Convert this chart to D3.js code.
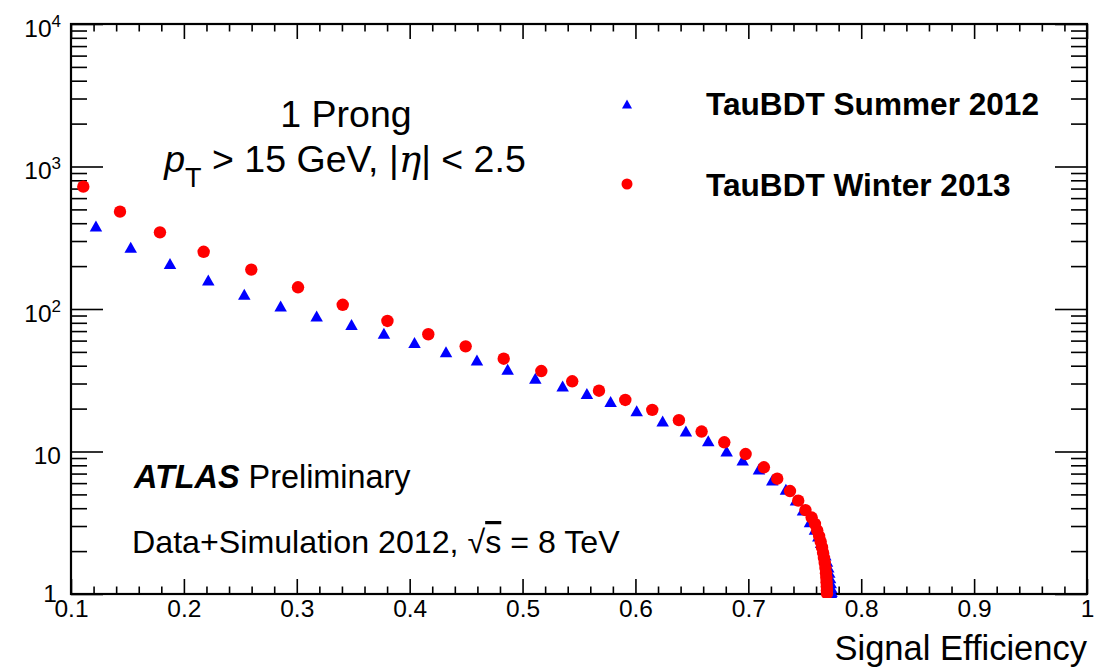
<!DOCTYPE html>
<html>
<head>
<meta charset="utf-8">
<script src="https://cdn.jsdelivr.net/npm/d3@7"></script>
<style>
  html, body { margin: 0; padding: 0; background: #fff; }
  svg { display: block; }
  text { font-family: "Liberation Sans", Arial, Helvetica, sans-serif; fill: #000; }
</style>
</head>
<body>
<svg id="chart" width="1098" height="668"></svg>
<script>
// ---------------- DATA ----------------
// TauBDT Summer 2012 (blue triangles): signal efficiency vs background rejection
const summerEff = [0.1221, 0.1529, 0.1877, 0.2216, 0.2535, 0.2857, 0.3176, 0.3485, 0.3772, 0.4043,
  0.4322, 0.4596, 0.4868, 0.5113, 0.5355, 0.5570, 0.5780, 0.6011, 0.6241, 0.6447,
  0.6645, 0.6808, 0.6950, 0.7094, 0.7212, 0.7333, 0.7422, 0.7484, 0.7546,
  0.7590, 0.7620, 0.7645, 0.7665, 0.7682, 0.7697, 0.7708, 0.7717, 0.7724, 0.7730, 0.7734, 0.7737, 0.7739];
const summerRej = [382, 271, 209, 160, 127, 105, 89.3, 77.8, 67.5, 58.2,
  50.2, 43.9, 37.8, 32.7, 28.8, 25.5, 22.4, 19.3, 16.4, 13.9,
  11.9, 10.1, 8.72, 7.54, 6.31, 5.43, 4.57, 3.88, 3.22,
  2.85, 2.55, 2.30, 2.08, 1.88, 1.70, 1.55, 1.42, 1.30, 1.20, 1.11, 1.04, 1.00];

// TauBDT Winter 2013 (red circles)
const winterEff = [0.1109, 0.1434, 0.1788, 0.2175, 0.2597, 0.3011, 0.3407, 0.3803, 0.4165, 0.4496,
  0.4833, 0.5166, 0.5440, 0.5677, 0.5910, 0.6149, 0.6385, 0.6586, 0.6787, 0.6976,
  0.7138, 0.7256, 0.7369, 0.7442, 0.7506, 0.7561,
  0.7590, 0.7610, 0.7627, 0.7641, 0.7652, 0.7662, 0.7670, 0.7677, 0.7683, 0.7688,
  0.7691, 0.7693, 0.7695, 0.7696, 0.7697];
const winterRej = [722, 482, 345, 252, 189, 142, 107, 82.4, 66.5, 54.7,
  44.8, 36.7, 31.1, 26.7, 23.0, 19.6, 16.6, 13.8, 11.6, 9.6,
  7.75, 6.44, 5.28, 4.52, 3.88, 3.44,
  3.10, 2.80, 2.55, 2.33, 2.13, 1.95, 1.79, 1.65, 1.52, 1.40,
  1.30, 1.21, 1.13, 1.06, 1.01];

const xTickValues = [0.1, 0.2, 0.3, 0.4, 0.5, 0.6, 0.7, 0.8, 0.9, 1];
const xTickLabels = ["0.1", "0.2", "0.3", "0.4", "0.5", "0.6", "0.7", "0.8", "0.9", "1"];
const yTickValues = [1, 10, 100, 1000, 10000];
const yTickBase = ["1", "10", "10", "10", "10"];
const yTickExp = ["", "", "2", "3", "4"];

const seriesNames = ["TauBDT Summer 2012", "TauBDT Winter 2013"];
const seriesColors = ["#0000ff", "#ff0000"];

// ---------------- LAYOUT ----------------
const L = 71, R = 1087, T = 24, B = 594;
const svg = d3.select("#chart");
const x = d3.scaleLinear().domain([0.1, 1]).range([L, R]);
const y = d3.scaleLog().domain([1, 10000]).range([B, T]);

const xMinor = d3.range(0.12, 1.0, 0.02).filter(v => Math.abs(v * 10 - Math.round(v * 10)) > 1e-6);
const yMinor = [];
[1, 10, 100, 1000].forEach(d => { for (let k = 2; k <= 9; k++) yMinor.push(d * k); });

function styleAxis(g) {
  g.select(".domain").remove();
  g.selectAll(".tick line").attr("stroke", "#000").attr("stroke-width", 1.6);
}

// bottom axis
svg.append("g").attr("transform", `translate(0,${B})`)
  .call(d3.axisBottom(x).tickValues(xTickValues).tickSize(-15).tickSizeOuter(0).tickPadding(6)
    .tickFormat((d, i) => xTickLabels[i]))
  .call(styleAxis)
  .call(g => g.selectAll("text").attr("font-size", 24.5).attr("font-family", "Liberation Sans, Arial, sans-serif"));
svg.append("g").attr("transform", `translate(0,${B})`)
  .call(d3.axisBottom(x).tickValues(xMinor).tickSize(-7.5).tickSizeOuter(0).tickFormat(""))
  .call(styleAxis);
// top axis
svg.append("g").attr("transform", `translate(0,${T})`)
  .call(d3.axisTop(x).tickValues(xTickValues).tickSize(-15).tickSizeOuter(0).tickFormat(""))
  .call(styleAxis);
svg.append("g").attr("transform", `translate(0,${T})`)
  .call(d3.axisTop(x).tickValues(xMinor).tickSize(-7.5).tickSizeOuter(0).tickFormat(""))
  .call(styleAxis);

// left axis
const leftG = svg.append("g").attr("transform", `translate(${L},0)`)
  .call(d3.axisLeft(y).tickValues(yTickValues).tickSize(-32).tickSizeOuter(0).tickPadding(10)
    .tickFormat(() => ""))
  .call(styleAxis);
leftG.selectAll(".tick text").each(function (d, i) {
  const t = d3.select(this).attr("font-size", 24.5).attr("dy", i === 0 ? "0.3em" : "0.5em")
    .attr("font-family", "Liberation Sans, Arial, sans-serif");
  if (i === 0) t.attr("x", -14);
  t.text(null);
  t.append("tspan").text(yTickBase[i]);
  if (yTickExp[i]) t.append("tspan").attr("font-size", 17).attr("dy", "-0.6em").text(yTickExp[i]);
});
svg.append("g").attr("transform", `translate(${L},0)`)
  .call(d3.axisLeft(y).tickValues(yMinor).tickSize(-16).tickSizeOuter(0).tickFormat(""))
  .call(styleAxis);
// right axis
svg.append("g").attr("transform", `translate(${R},0)`)
  .call(d3.axisRight(y).tickValues(yTickValues).tickSize(-32).tickSizeOuter(0).tickFormat(""))
  .call(styleAxis);
svg.append("g").attr("transform", `translate(${R},0)`)
  .call(d3.axisRight(y).tickValues(yMinor).tickSize(-16).tickSizeOuter(0).tickFormat(""))
  .call(styleAxis);

// frame
svg.append("rect").attr("x", L).attr("y", T).attr("width", R - L).attr("height", B - T)
  .attr("fill", "none").attr("stroke", "#000").attr("stroke-width", 2.2);

// markers
function triPath(w, h) {
  return `M0,${-h / 2}L${w / 2},${h / 2}L${-w / 2},${h / 2}Z`;
}
svg.append("clipPath").attr("id", "plotclip").append("rect")
  .attr("x", L - 8).attr("y", T).attr("width", R - L + 8).attr("height", B - T + 4);

const summer = summerEff.map((e, i) => ({ e, r: summerRej[i] }));
const winter = winterEff.map((e, i) => ({ e, r: winterRej[i] }));

svg.append("g").attr("clip-path", "url(#plotclip)")
  .selectAll("path").data(summer).join("path")
  .attr("d", triPath(12.5, 11))
  .attr("transform", d => `translate(${x(d.e)},${y(d.r)})`)
  .attr("fill", seriesColors[0]);

svg.append("g").attr("clip-path", "url(#plotclip)")
  .selectAll("circle").data(winter).join("circle")
  .attr("cx", d => x(d.e)).attr("cy", d => y(d.r)).attr("r", 6.2)
  .attr("fill", seriesColors[1]);

// legend
svg.append("path").attr("d", triPath(10, 9)).attr("transform", "translate(627,104)").attr("fill", seriesColors[0]);
svg.append("circle").attr("cx", 627).attr("cy", 184).attr("r", 5.5).attr("fill", seriesColors[1]);
svg.append("text").attr("x", 706).attr("y", 115).attr("font-size", 31.6).attr("font-weight", "bold").text(seriesNames[0]);
svg.append("text").attr("x", 706).attr("y", 196).attr("font-size", 31.6).attr("font-weight", "bold").text(seriesNames[1]);

// annotations
svg.append("text").attr("x", 346).attr("y", 127).attr("text-anchor", "middle").attr("font-size", 37.5).text("1 Prong");
const l2 = svg.append("text").attr("x", 345).attr("y", 172).attr("text-anchor", "middle").attr("font-size", 37.5);
l2.append("tspan").attr("font-style", "italic").text("p");
l2.append("tspan").attr("font-size", 27).attr("dy", 15).text("T");
l2.append("tspan").attr("dy", -15).text(" > 15 GeV, |");
l2.append("tspan").attr("font-style", "italic").attr("font-family", "DejaVu Serif, serif").text("η");
l2.append("tspan").text("| < 2.5");

const atl = svg.append("text").attr("x", 134).attr("y", 488).attr("font-size", 32.4);
atl.append("tspan").attr("font-weight", "bold").attr("font-style", "italic").text("ATLAS");
atl.append("tspan").text(" Preliminary");

const dl = svg.append("text").attr("x", 132).attr("y", 553).attr("font-size", 32.2);
dl.append("tspan").text("Data+Simulation 2012, √");
dl.append("tspan").attr("text-decoration", "overline").text("s");
dl.append("tspan").text(" = 8 TeV");

svg.append("text").attr("x", R).attr("y", 660).attr("text-anchor", "end").attr("font-size", 34.5)
  .text("Signal Efficiency");
</script>
</body>
</html>
